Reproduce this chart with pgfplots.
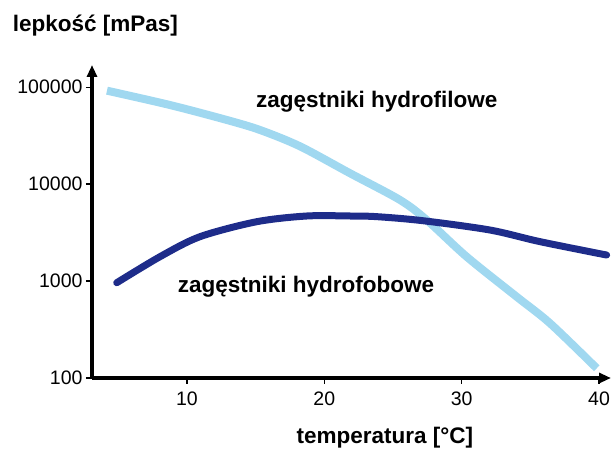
\documentclass[border=0pt]{standalone}
\usepackage{fontspec}
\setmainfont{Liberation Sans}
\usepackage{pgfplots}
\pgfplotsset{compat=1.18}
\usetikzlibrary{arrows.meta,calc}
\definecolor{navyline}{RGB}{30,44,138}
\definecolor{skyline}{RGB}{160,216,240}
\begin{document}
\begin{tikzpicture}
\begin{axis}[
  name=ax, at={(0,0)}, anchor=south west,
  scale only axis, width=519pt, height=313pt,
  axis lines=left,
  axis line style={line width=3.5pt, -{Triangle[length=12pt,width=10pt]}},
  xmin=3.09, xmax=40.87,
  ymode=log, log basis y=10, ymin=100, ymax=169800,
  xtick={10,20,30,40}, xticklabels={10,20,30,40},
  ytick={100,1000,10000,100000}, yticklabels={100,1000,10000,100000},
  yminorticks=false,
  tick align=outside, major tick length=6pt,
  tick style={line width=1.5pt, black},
  ticklabel style={font=\fontsize{19.5}{20}\selectfont},
  xticklabel style={yshift=-4pt},
  /pgf/number format/assume math mode=true,
  clip=false,
]
% zagestniki hydrofilowe
\addplot[skyline, line width=8pt, smooth, tension=0.5] coordinates {
  (4.18,92260) (8.77,65600) (12.9,46000) (15.32,36250) (18.23,24600)
  (21.87,12970) (25.51,6874) (27.45,4275) (30.36,1786) (34.0,690)
  (36.43,367) (39.83,126)
};
% zagestniki hydrofobowe
\addplot[navyline, line width=7pt, smooth, tension=0.5, line cap=round] coordinates {
  (4.89,962) (8.04,1786) (10.95,2873) (15.08,4100) (18.72,4696)
  (21.87,4696) (23.81,4624) (27.18,4199) (32.06,3365) (35.7,2553)
  (40.55,1858)
};
\end{axis}
\node[anchor=base west, font=\bfseries\fontsize{22.5}{24}\selectfont, inner sep=0pt]
  at ($(ax.south west)+(164pt,270.7pt)$) {zagęstniki hydrofilowe};
\node[anchor=base west, font=\bfseries\fontsize{22.5}{24}\selectfont, inner sep=0pt]
  at ($(ax.south west)+(85.7pt,86pt)$) {zagęstniki hydrofobowe};
\node[anchor=base, font=\bfseries\fontsize{22.5}{24}\selectfont, inner sep=0pt]
  at ($(ax.south west)+(292.9pt,-65.3pt)$) {temperatura [°C]};
\node[anchor=base west, font=\bfseries\fontsize{22.5}{24}\selectfont, inner sep=0pt]
  at ($(ax.south west)+(-79.3pt,346.3pt)$) {lepkość [mPas]};
\pgfresetboundingbox
\path[use as bounding box] ($(ax.south west)+(-92pt,-70pt)$) rectangle ($(ax.south west)+(520pt,378pt)$);
\end{tikzpicture}
\end{document}
